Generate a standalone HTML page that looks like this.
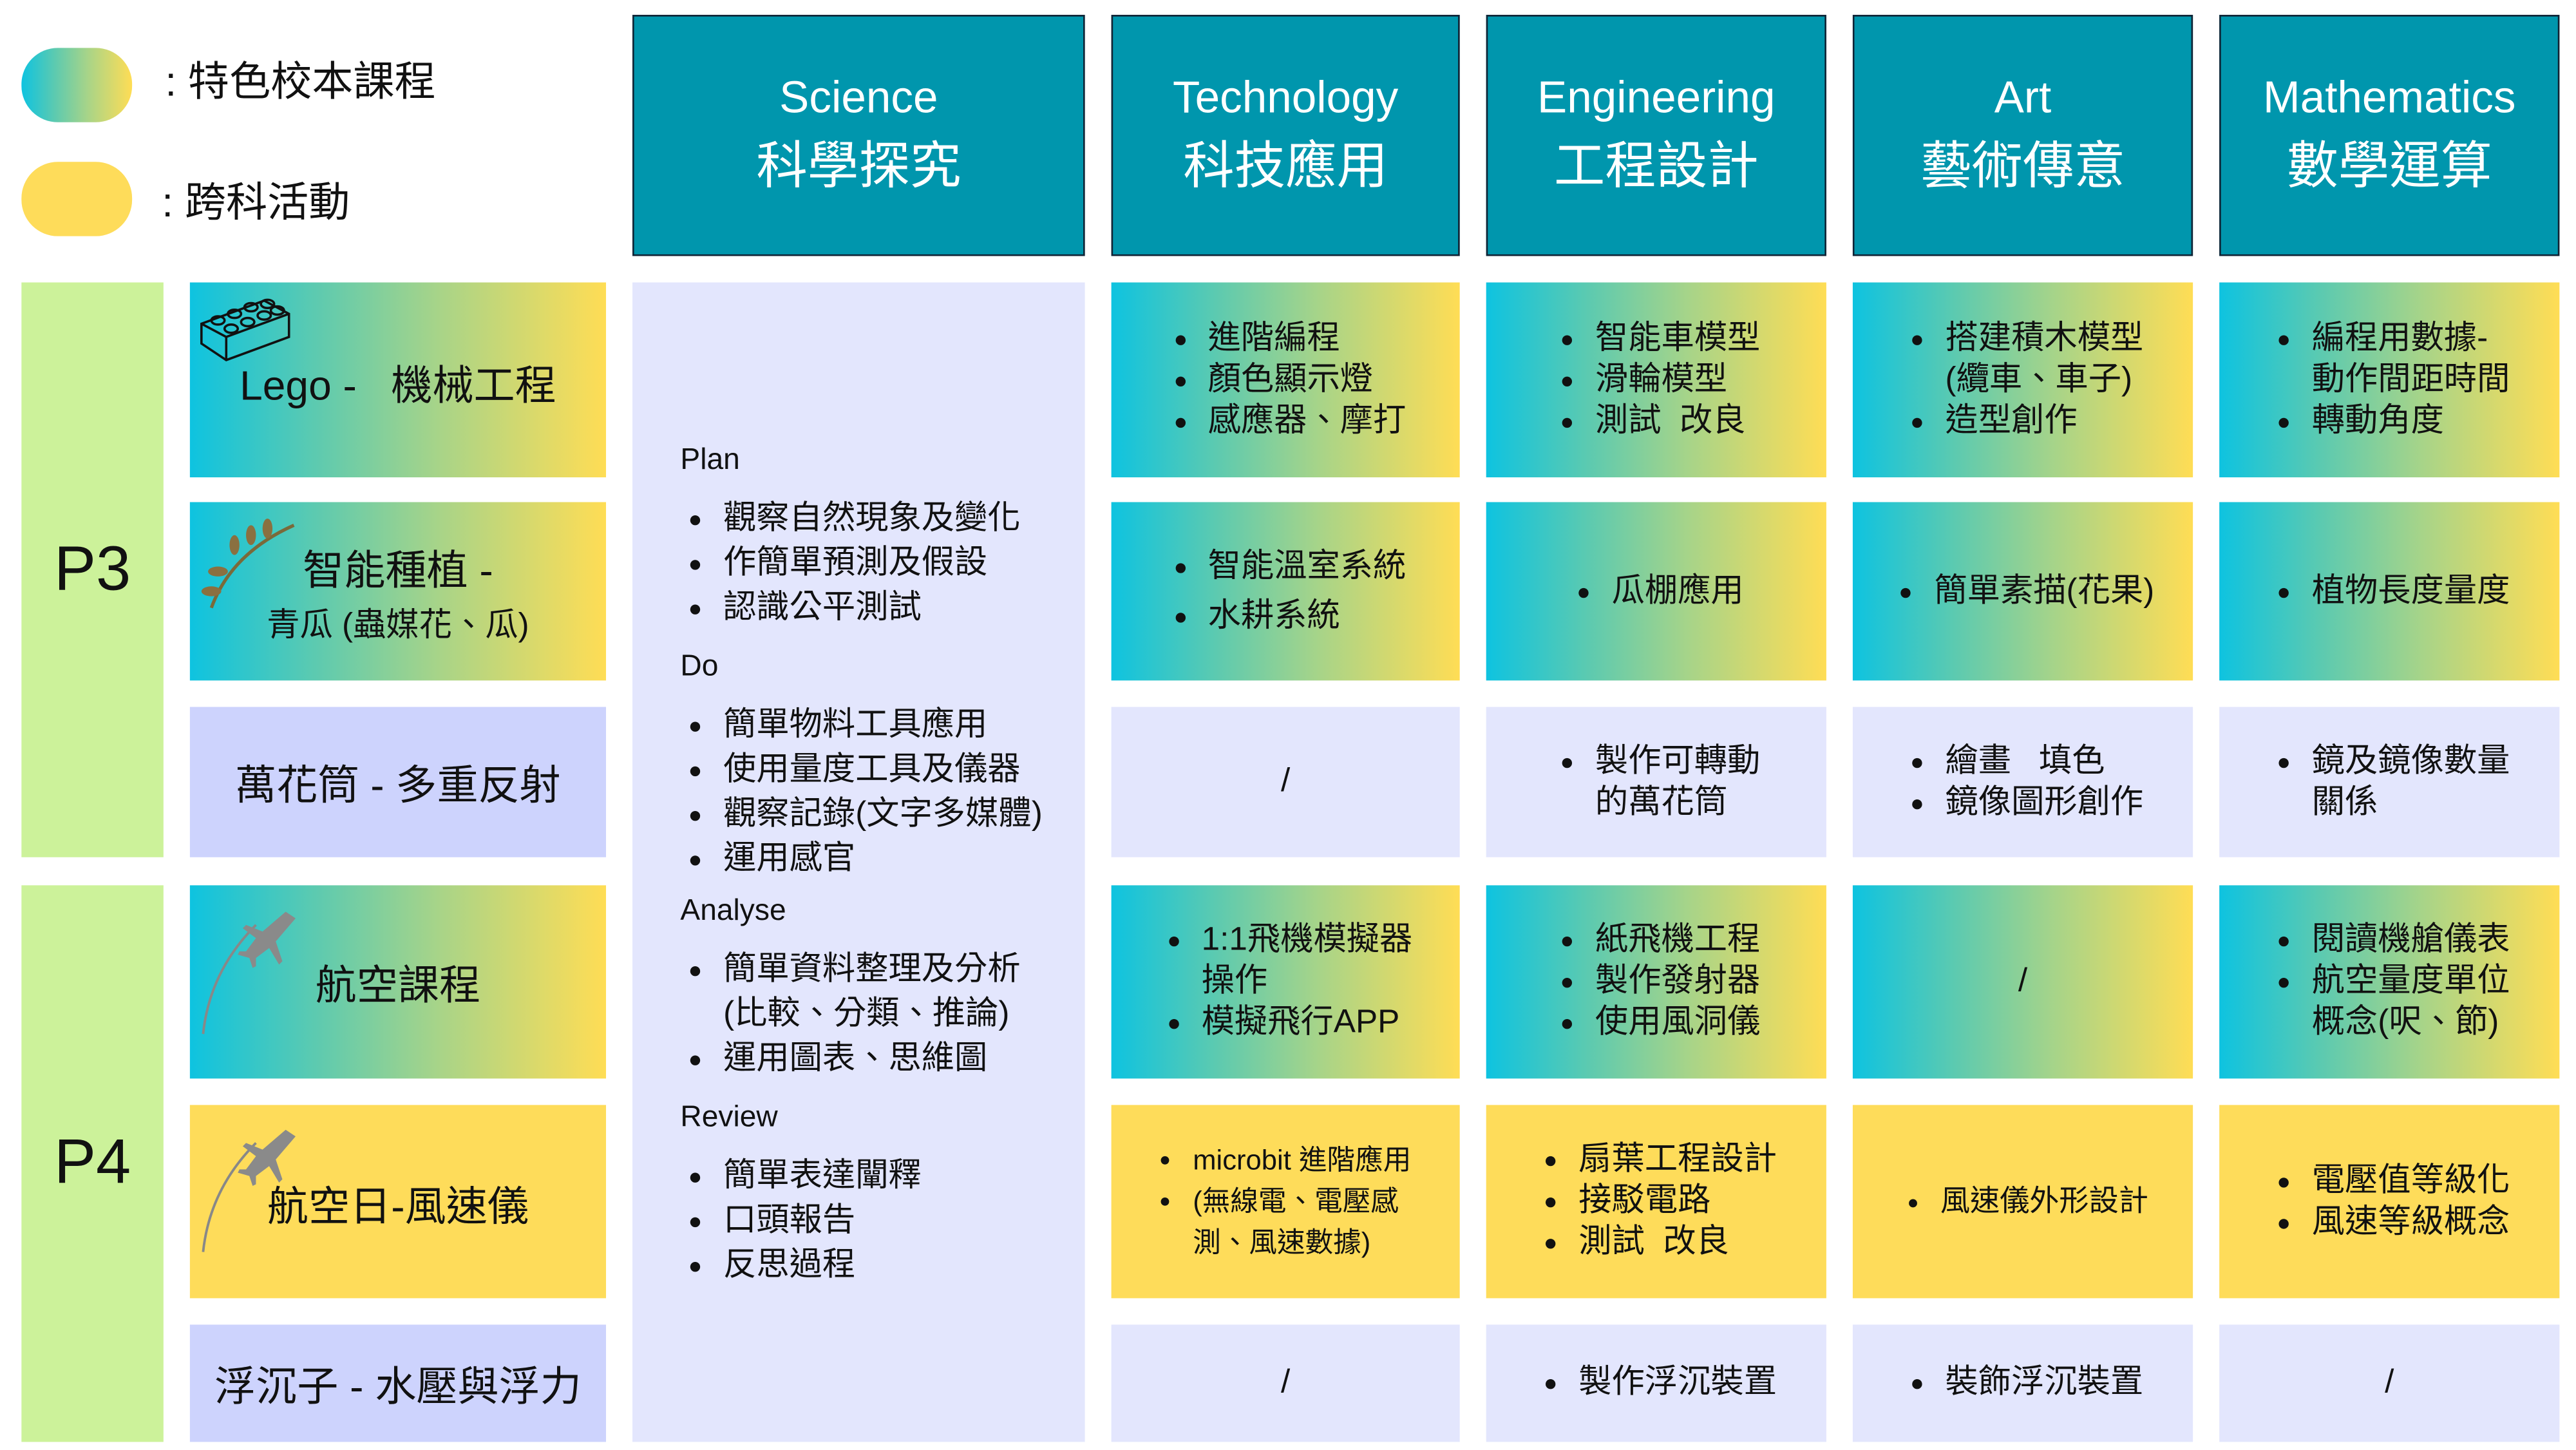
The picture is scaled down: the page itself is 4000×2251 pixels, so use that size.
<!DOCTYPE html>
<html><head><meta charset="utf-8"><style>
html,body{margin:0;padding:0;background:#fff;width:4000px;height:2250px;overflow:hidden}
#w{position:absolute;left:0;top:0;width:1560px;height:878px;transform:scale(2.5641);transform-origin:0 0;font-family:"Liberation Sans","Noto Sans CJK TC",sans-serif;color:#111}
.a{position:absolute;box-sizing:border-box}
.c{display:flex;align-items:center;justify-content:center}
.g{background:linear-gradient(90deg,#0ec3e0 0%,#5ccab0 30%,#a8d488 60%,#ffdd55 100%)}
.y{background:#fedc5a}
.l{background:#e3e6fd}
.lb{background:#cdd3fd}
.h{background:#0096ad;border:1.5px solid #123;color:#fff;flex-direction:column;text-align:center}
.h .e{font-size:27px;line-height:32px}
.h .z{font-size:31px;line-height:40px;margin-top:6px}
ul{margin:0;padding-left:24px;font-size:20px;line-height:25px}
li{padding-left:2px}
.p{background:#ccf29a;font-size:38px}
.t{font-size:25px}
</style></head><body><div id="w">
<div class="a g" style="left:13px;top:29px;width:67px;height:45px;border-radius:22px"></div>
<div class="a" style="left:100px;top:30px;font-size:25px">: 特色校本課程</div>
<div class="a y" style="left:13px;top:98px;width:67px;height:45px;border-radius:22px"></div>
<div class="a" style="left:98px;top:103px;font-size:25px">: 跨科活動</div>

<div class="a c h" style="left:383px;top:9px;width:274px;height:146px"><div class="e">Science</div><div class="z">科學探究</div></div>
<div class="a c h" style="left:673px;top:9px;width:211px;height:146px"><div class="e">Technology</div><div class="z">科技應用</div></div>
<div class="a c h" style="left:900px;top:9px;width:206px;height:146px"><div class="e">Engineering</div><div class="z">工程設計</div></div>
<div class="a c h" style="left:1122px;top:9px;width:206px;height:146px"><div class="e">Art</div><div class="z">藝術傳意</div></div>
<div class="a c h" style="left:1344px;top:9px;width:206px;height:146px"><div class="e">Mathematics</div><div class="z">數學運算</div></div>

<div class="a c p" style="left:13px;top:171px;width:86px;height:348px">P3</div>
<div class="a c p" style="left:13px;top:536px;width:86px;height:337px">P4</div>

<div class="a c g t" style="left:115px;top:171px;width:252px;height:118px;padding-top:4px">Lego -&nbsp;&nbsp; 機械工程</div>
<svg class="a" style="left:120px;top:180px" width="58" height="42" viewBox="0 0 58 42" fill="none" stroke="#111" stroke-width="1.4"><path d="M2 16 L40 2 L55 10 L55 24 L17 38 L2 28 Z M2 16 L17 24 L55 10 M17 24 L17 38"/><ellipse cx="12" cy="14" rx="4" ry="2.5"/><ellipse cx="22" cy="10" rx="4" ry="2.5"/><ellipse cx="32" cy="6" rx="4" ry="2.5"/><ellipse cx="42" cy="4" rx="4" ry="2.5"/><ellipse cx="20" cy="19" rx="4" ry="2.5"/><ellipse cx="30" cy="15" rx="4" ry="2.5"/><ellipse cx="40" cy="11" rx="4" ry="2.5"/><ellipse cx="48" cy="8" rx="4" ry="2.5"/></svg>
<div class="a c g" style="left:115px;top:304px;width:252px;height:108px;flex-direction:column"><div style="font-size:25px">智能種植 -</div><div style="font-size:20px">青瓜 (蟲媒花、瓜)</div></div>
<svg class="a" style="left:120px;top:310px" width="60" height="60"><path d="M8 58 Q20 25 58 8" stroke="#7a6a3a" stroke-width="2" fill="none"/><g fill="#8a7040"><ellipse cx="22" cy="20" rx="3" ry="6"/><ellipse cx="32" cy="14" rx="3" ry="6"/><ellipse cx="42" cy="10" rx="3" ry="6"/><ellipse cx="12" cy="36" rx="6" ry="3"/><ellipse cx="8" cy="48" rx="6" ry="3"/></g></svg>
<div class="a c lb t" style="left:115px;top:428px;width:252px;height:91px">萬花筒 - 多重反射</div>
<div class="a c g t" style="left:115px;top:536px;width:252px;height:117px">航空課程</div>
<div class="a c y t" style="left:115px;top:669px;width:252px;height:117px;padding-top:2px">航空日-風速儀</div>
<svg class="a" style="left:115px;top:548px" width="70" height="240" fill="#8a8a8a"><path d="M8 78 Q12 40 40 12" stroke="#888" stroke-width="1.5" fill="none"/><path d="M58 4 L44 16 L34 12 L32 14 L40 20 L34 28 L30 28 L29 30 L36 32 L38 38 L40 37 L40 32 L48 26 L54 36 L56 34 L52 22 L64 8 Z"/><path d="M8 210 Q12 172 40 144" stroke="#888" stroke-width="1.5" fill="none"/><path d="M58 136 L44 148 L34 144 L32 146 L40 152 L34 160 L30 160 L29 162 L36 164 L38 170 L40 169 L40 164 L48 158 L54 168 L56 166 L52 154 L64 140 Z"/></svg>
<div class="a c lb t" style="left:115px;top:802px;width:252px;height:71px">浮沉子 - 水壓與浮力</div>

<div class="a l" style="left:383px;top:171px;width:274px;height:702px;padding:96px 0 0 29px">
<div style="font-size:18px;line-height:22px">Plan</div>
<ul style="margin:12px 0 10px;line-height:27px"><li>觀察自然現象及變化</li><li>作簡單預測及假設</li><li>認識公平測試</li></ul>
<div style="font-size:18px;line-height:22px">Do</div>
<ul style="margin:12px 0 6px;line-height:27px"><li>簡單物料工具應用</li><li>使用量度工具及儀器</li><li>觀察記錄(文字多媒體)</li><li>運用感官</li></ul>
<div style="font-size:18px;line-height:22px">Analyse</div>
<ul style="margin:12px 0 10px;line-height:27px"><li>簡單資料整理及分析<br>(比較、分類、推論)</li><li>運用圖表、思維圖</li></ul>
<div style="font-size:18px;line-height:22px">Review</div>
<ul style="margin:12px 0 0;line-height:27px"><li>簡單表達闡釋</li><li>口頭報告</li><li>反思過程</li></ul>
</div>

<div class="a c g" style="left:673px;top:171px;width:211px;height:118px"><ul><li>進階編程</li><li>顏色顯示燈</li><li>感應器、摩打</li></ul></div>
<div class="a c g" style="left:900px;top:171px;width:206px;height:118px"><ul><li>智能車模型</li><li>滑輪模型</li><li>測試&nbsp; 改良</li></ul></div>
<div class="a c g" style="left:1122px;top:171px;width:206px;height:118px"><ul><li>搭建積木模型<br>(纜車、車子)</li><li>造型創作</li></ul></div>
<div class="a c g" style="left:1344px;top:171px;width:206px;height:118px"><ul><li>編程用數據-<br>動作間距時間</li><li>轉動角度</li></ul></div>
<div class="a c g" style="left:673px;top:304px;width:211px;height:108px"><ul style="line-height:30px"><li>智能溫室系統</li><li>水耕系統</li></ul></div>
<div class="a c g" style="left:900px;top:304px;width:206px;height:108px"><ul><li>瓜棚應用</li></ul></div>
<div class="a c g" style="left:1122px;top:304px;width:206px;height:108px"><ul><li>簡單素描(花果)</li></ul></div>
<div class="a c g" style="left:1344px;top:304px;width:206px;height:108px"><ul><li>植物長度量度</li></ul></div>
<div class="a c l" style="left:673px;top:428px;width:211px;height:91px;font-size:20px">/</div>
<div class="a c l" style="left:900px;top:428px;width:206px;height:91px"><ul><li>製作可轉動<br>的萬花筒</li></ul></div>
<div class="a c l" style="left:1122px;top:428px;width:206px;height:91px"><ul><li>繪畫&nbsp;&nbsp; 填色</li><li>鏡像圖形創作</li></ul></div>
<div class="a c l" style="left:1344px;top:428px;width:206px;height:91px"><ul><li>鏡及鏡像數量<br>關係</li></ul></div>
<div class="a c g" style="left:673px;top:536px;width:211px;height:117px"><ul><li>1:1飛機模擬器<br>操作</li><li>模擬飛行APP</li></ul></div>
<div class="a c g" style="left:900px;top:536px;width:206px;height:117px"><ul><li>紙飛機工程</li><li>製作發射器</li><li>使用風洞儀</li></ul></div>
<div class="a c g" style="left:1122px;top:536px;width:206px;height:117px;font-size:20px">/</div>
<div class="a c g" style="left:1344px;top:536px;width:206px;height:117px"><ul><li>閱讀機艙儀表</li><li>航空量度單位<br>概念(呎、節)</li></ul></div>
<div class="a c y" style="left:673px;top:669px;width:211px;height:117px"><ul style="font-size:17px;line-height:25px;padding-left:18px"><li>microbit 進階應用</li><li>(無線電、電壓感<br>測、風速數據)</li></ul></div>
<div class="a c y" style="left:900px;top:669px;width:206px;height:117px"><ul><li>扇葉工程設計</li><li>接駁電路</li><li>測試&nbsp; 改良</li></ul></div>
<div class="a c y" style="left:1122px;top:669px;width:206px;height:117px"><ul style="font-size:18px"><li>風速儀外形設計</li></ul></div>
<div class="a c y" style="left:1344px;top:669px;width:206px;height:117px"><ul><li>電壓值等級化</li><li>風速等級概念</li></ul></div>
<div class="a c l" style="left:673px;top:802px;width:211px;height:71px;font-size:20px">/</div>
<div class="a c l" style="left:900px;top:802px;width:206px;height:71px"><ul><li>製作浮沉裝置</li></ul></div>
<div class="a c l" style="left:1122px;top:802px;width:206px;height:71px"><ul><li>裝飾浮沉裝置</li></ul></div>
<div class="a c l" style="left:1344px;top:802px;width:206px;height:71px;font-size:20px">/</div>
</div></body></html>
